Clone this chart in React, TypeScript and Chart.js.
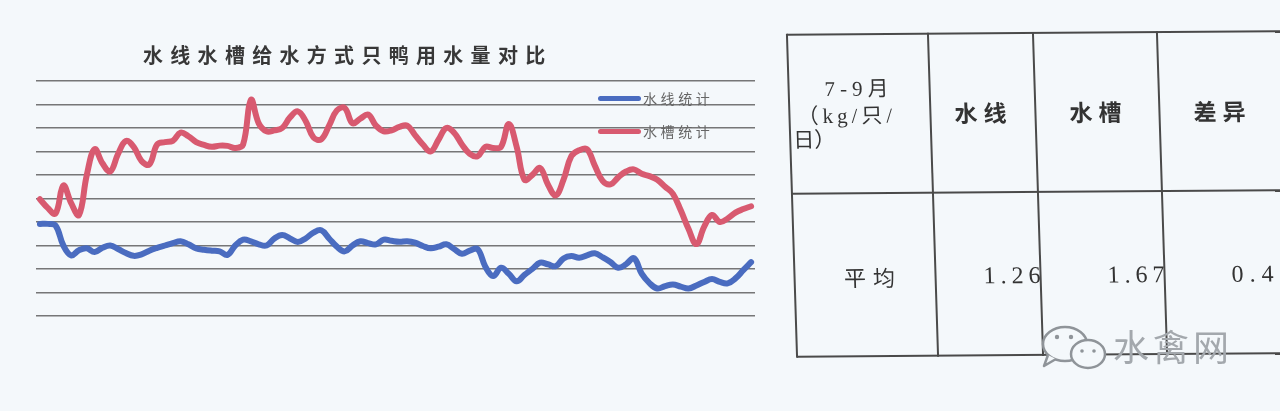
import React, { useEffect, useRef } from "react";
import { Chart, registerables } from "chart.js";

Chart.register(...registerables);

// ---------- data ----------
const TITLE = "水线水槽给水方式只鸭用水量对比";
const SERIES_NAMES = ["水线统计", "水槽统计"];
const MONTHS = [7, 8, 9];
const MONTH_LENGTHS = [31, 31, 30];
const CATEGORIES = MONTHS.flatMap((m, k) =>
  Array.from({ length: MONTH_LENGTHS[k] }, (_, d) => `${m}/${d + 1}`)
);

// kg per duck per day, water line (水线)
const WATER_LINE = [
  1.392, 1.392, 1.385, 1.30, 1.258, 1.28, 1.288, 1.272, 1.29, 1.30,
  1.285, 1.268, 1.256, 1.262, 1.278, 1.29, 1.30, 1.31, 1.318, 1.305,
  1.288, 1.282, 1.278, 1.275, 1.26, 1.30, 1.325, 1.318, 1.305, 1.30,
  1.33, 1.345, 1.33, 1.315, 1.33, 1.355, 1.365, 1.33, 1.295, 1.275,
  1.30, 1.318, 1.31, 1.305, 1.325, 1.32, 1.316, 1.318, 1.312, 1.298,
  1.288, 1.295, 1.305, 1.285, 1.265, 1.278, 1.285, 1.21, 1.17, 1.205,
  1.18, 1.148, 1.175, 1.20, 1.227, 1.22, 1.212, 1.245, 1.255, 1.248,
  1.258, 1.267, 1.25, 1.23, 1.205, 1.22, 1.246, 1.18, 1.14, 1.117,
  1.127, 1.134, 1.125, 1.117, 1.13, 1.145, 1.157, 1.145, 1.139, 1.16,
  1.195, 1.229,
];

// kg per duck per day, water trough (水槽)
const WATER_TROUGH = [
  1.497, 1.46, 1.436, 1.555, 1.48, 1.43, 1.60, 1.71, 1.65, 1.615,
  1.69, 1.745, 1.72, 1.66, 1.645, 1.73, 1.74, 1.745, 1.78, 1.765,
  1.74, 1.728, 1.72, 1.725, 1.724, 1.715, 1.73, 1.92, 1.82, 1.786,
  1.79, 1.80, 1.845, 1.871, 1.83, 1.76, 1.752, 1.81, 1.875, 1.885,
  1.82, 1.84, 1.857, 1.81, 1.786, 1.79, 1.805, 1.81, 1.77, 1.73,
  1.70, 1.75, 1.80, 1.78, 1.73, 1.69, 1.68, 1.72, 1.715, 1.72,
  1.817, 1.72, 1.58, 1.60, 1.63, 1.56, 1.513, 1.58, 1.68, 1.705,
  1.71, 1.64, 1.575, 1.56, 1.59, 1.615, 1.624, 1.605, 1.595, 1.58,
  1.55, 1.52, 1.45, 1.37, 1.306, 1.38, 1.43, 1.40, 1.415, 1.44,
  1.455, 1.467,
];

const Y_MIN = 1.0;
const Y_MAX = 2.0;
const Y_STEP = 0.1;

const TABLE_CORNER = ["7-9月", "（kg/只/", "日）"];
const TABLE_HEAD = ["水线", "水槽", "差异"];
const TABLE_ROW_LABEL = "平均";
const TABLE_VALUES = ["1.26", "1.67", "0.4"];
const WATERMARK = "水禽网";

// ---------- styles ----------
const BG = "#f4f8fb";
const BLUE = "#4a6cc0";
const RED = "#d85a70";
const GRID = "rgba(95,95,95,0.85)";
const CJK = '"Noto Sans CJK SC", "Noto Sans", sans-serif';
const SERIF = '"Liberation Serif", "DejaVu Serif", "Noto Sans CJK SC", serif';

type TProps = {
  x: number;
  y: number;
  text: string;
  anchor?: "center" | "left" | "right";
  style?: React.CSSProperties;
};

function T({ x, y, text, anchor = "center", style }: TProps) {
  const tx = anchor === "center" ? "-50%" : anchor === "right" ? "-100%" : "0";
  return (
    <div
      style={{
        position: "absolute",
        left: x,
        top: y,
        transform: `translate(${tx}, -50%)`,
        whiteSpace: "nowrap",
        lineHeight: 1,
        ...style,
      }}
    >
      {text}
    </div>
  );
}

function Line({ x, y, w, h }: { x: number; y: number; w: number; h: number }) {
  return (
    <div
      style={{
        position: "absolute",
        left: x,
        top: y,
        width: w,
        height: h,
        background: "#4a4a4a",
      }}
    />
  );
}

export default function App() {
  const canvasRef = useRef<HTMLCanvasElement | null>(null);

  useEffect(() => {
    if (!canvasRef.current) return;
    const chart = new Chart(canvasRef.current, {
      type: "line",
      data: {
        labels: CATEGORIES,
        datasets: [
          {
            label: SERIES_NAMES[0],
            data: WATER_LINE,
            borderColor: BLUE,
            borderWidth: 6,
            tension: 0.4,
            pointRadius: 0,
            fill: false,
          },
          {
            label: SERIES_NAMES[1],
            data: WATER_TROUGH,
            borderColor: RED,
            borderWidth: 6,
            tension: 0.4,
            pointRadius: 0,
            fill: false,
          },
        ],
      },
      options: {
        animation: false,
        responsive: true,
        maintainAspectRatio: false,
        layout: { padding: { left: 36, right: 25, top: 81, bottom: 24 } },
        plugins: {
          legend: { display: false },
          title: { display: false },
          tooltip: { enabled: false },
        },
        elements: {
          line: { borderCapStyle: "round", borderJoinStyle: "round" },
        },
        scales: {
          x: { display: false, offset: true },
          y: {
            min: Y_MIN,
            max: Y_MAX,
            ticks: { display: false, stepSize: Y_STEP },
            grid: { color: GRID, lineWidth: 1.6, drawTicks: false },
            border: { display: false },
          },
        },
      },
    });
    return () => chart.destroy();
  }, []);

  return (
    <div
      style={{
        position: "fixed",
        left: 0,
        top: 0,
        width: 1280,
        height: 411,
        background: BG,
        overflow: "hidden",
        fontFamily: CJK,
      }}
    >
      {/* chart */}
      <div style={{ position: "absolute", left: 0, top: 0, width: 780, height: 340 }}>
        <canvas ref={canvasRef} />
      </div>

      {/* title */}
      <div
        style={{
          position: "absolute",
          left: 143,
          top: 55,
          transform: "translateY(-50%)",
          fontSize: 20,
          fontWeight: 700,
          letterSpacing: "7.3px",
          color: "#383838",
          whiteSpace: "nowrap",
          lineHeight: 1,
        }}
      >
        {TITLE}
      </div>

      {/* legend */}
      <div style={{ position: "absolute", left: 598, top: 96, width: 43, height: 5, borderRadius: 3, background: BLUE }} />
      <T x={643} y={98} anchor="left" text={SERIES_NAMES[0]} style={{ fontSize: 14, color: "#666", letterSpacing: "3.6px" }} />
      <div style={{ position: "absolute", left: 598, top: 129, width: 43, height: 5, borderRadius: 3, background: RED }} />
      <T x={643} y={131} anchor="left" text={SERIES_NAMES[1]} style={{ fontSize: 14, color: "#666", letterSpacing: "3.6px" }} />

      {/* table */}
      <div
        style={{
          position: "absolute",
          left: 0,
          top: 0,
          width: 1280,
          height: 411,
          transformOrigin: "1036px 194px",
          transform: "skewY(-0.4deg) skewX(1.8deg)",
        }}
      >
        <Line x={792} y={32} w={500} h={2} />
        <Line x={792} y={191} w={500} h={2} />
        <Line x={792} y={354} w={500} h={2} />
        <Line x={791} y={32} w={2} h={324} />
        <Line x={932} y={32} w={2} h={324} />
        <Line x={1037} y={32} w={2} h={324} />
        <Line x={1161} y={32} w={2} h={324} />

        <T x={860} y={88} text={TABLE_CORNER[0]} style={{ fontSize: 21, fontFamily: SERIF, color: "#333", letterSpacing: "5px", paddingLeft: 5 }} />
        <T x={800} y={115} anchor="left" text={TABLE_CORNER[1]} style={{ fontSize: 21, fontFamily: SERIF, color: "#333", letterSpacing: "4px" }} />
        <T x={795} y={139} anchor="left" text={TABLE_CORNER[2]} style={{ fontSize: 21, fontFamily: SERIF, color: "#333" }} />

        <T x={986} y={112} text={TABLE_HEAD[0]} style={{ fontSize: 23, fontWeight: 700, color: "#333", letterSpacing: "6px" }} />
        <T x={1101} y={112} text={TABLE_HEAD[1]} style={{ fontSize: 23, fontWeight: 700, color: "#333", letterSpacing: "6px" }} />
        <T x={1225} y={112} text={TABLE_HEAD[2]} style={{ fontSize: 23, fontWeight: 700, color: "#333", letterSpacing: "6px" }} />

        <T x={867} y={275} text={TABLE_ROW_LABEL} style={{ fontSize: 22, color: "#333", letterSpacing: "7px", paddingLeft: 7 }} />
        <T x={1043} y={275} anchor="right" text={TABLE_VALUES[0]} style={{ fontSize: 24, fontFamily: SERIF, color: "#333", letterSpacing: "5px" }} />
        <T x={1167} y={275} anchor="right" text={TABLE_VALUES[1]} style={{ fontSize: 24, fontFamily: SERIF, color: "#333", letterSpacing: "5px" }} />
        <T x={1277} y={275} anchor="right" text={TABLE_VALUES[2]} style={{ fontSize: 24, fontFamily: SERIF, color: "#333", letterSpacing: "6px" }} />
      </div>

      {/* watermark */}
      <svg
        style={{ position: "absolute", left: 1040, top: 324, overflow: "visible" }}
        width={70}
        height={50}
      >
        <ellipse cx={25} cy={20} rx={22} ry={17} fill={BG} stroke="#8f9499" strokeWidth={2.5} />
        <path d="M8 31 L4 42 L16 35" fill={BG} stroke="#8f9499" strokeWidth={2.5} strokeLinejoin="round" />
        <ellipse cx={48} cy={30} rx={17} ry={14} fill={BG} stroke="#8f9499" strokeWidth={2.5} />
        <circle cx={17} cy={13} r={2.2} fill="#8f9499" />
        <circle cx={31} cy={13} r={2.2} fill="#8f9499" />
        <circle cx={42} cy={27} r={1.8} fill="#8f9499" />
        <circle cx={54} cy={27} r={1.8} fill="#8f9499" />
      </svg>
      <T x={1173} y={345} text={WATERMARK} style={{ fontSize: 36, color: "#a3a8ad", letterSpacing: "4px" }} />
    </div>
  );
}
